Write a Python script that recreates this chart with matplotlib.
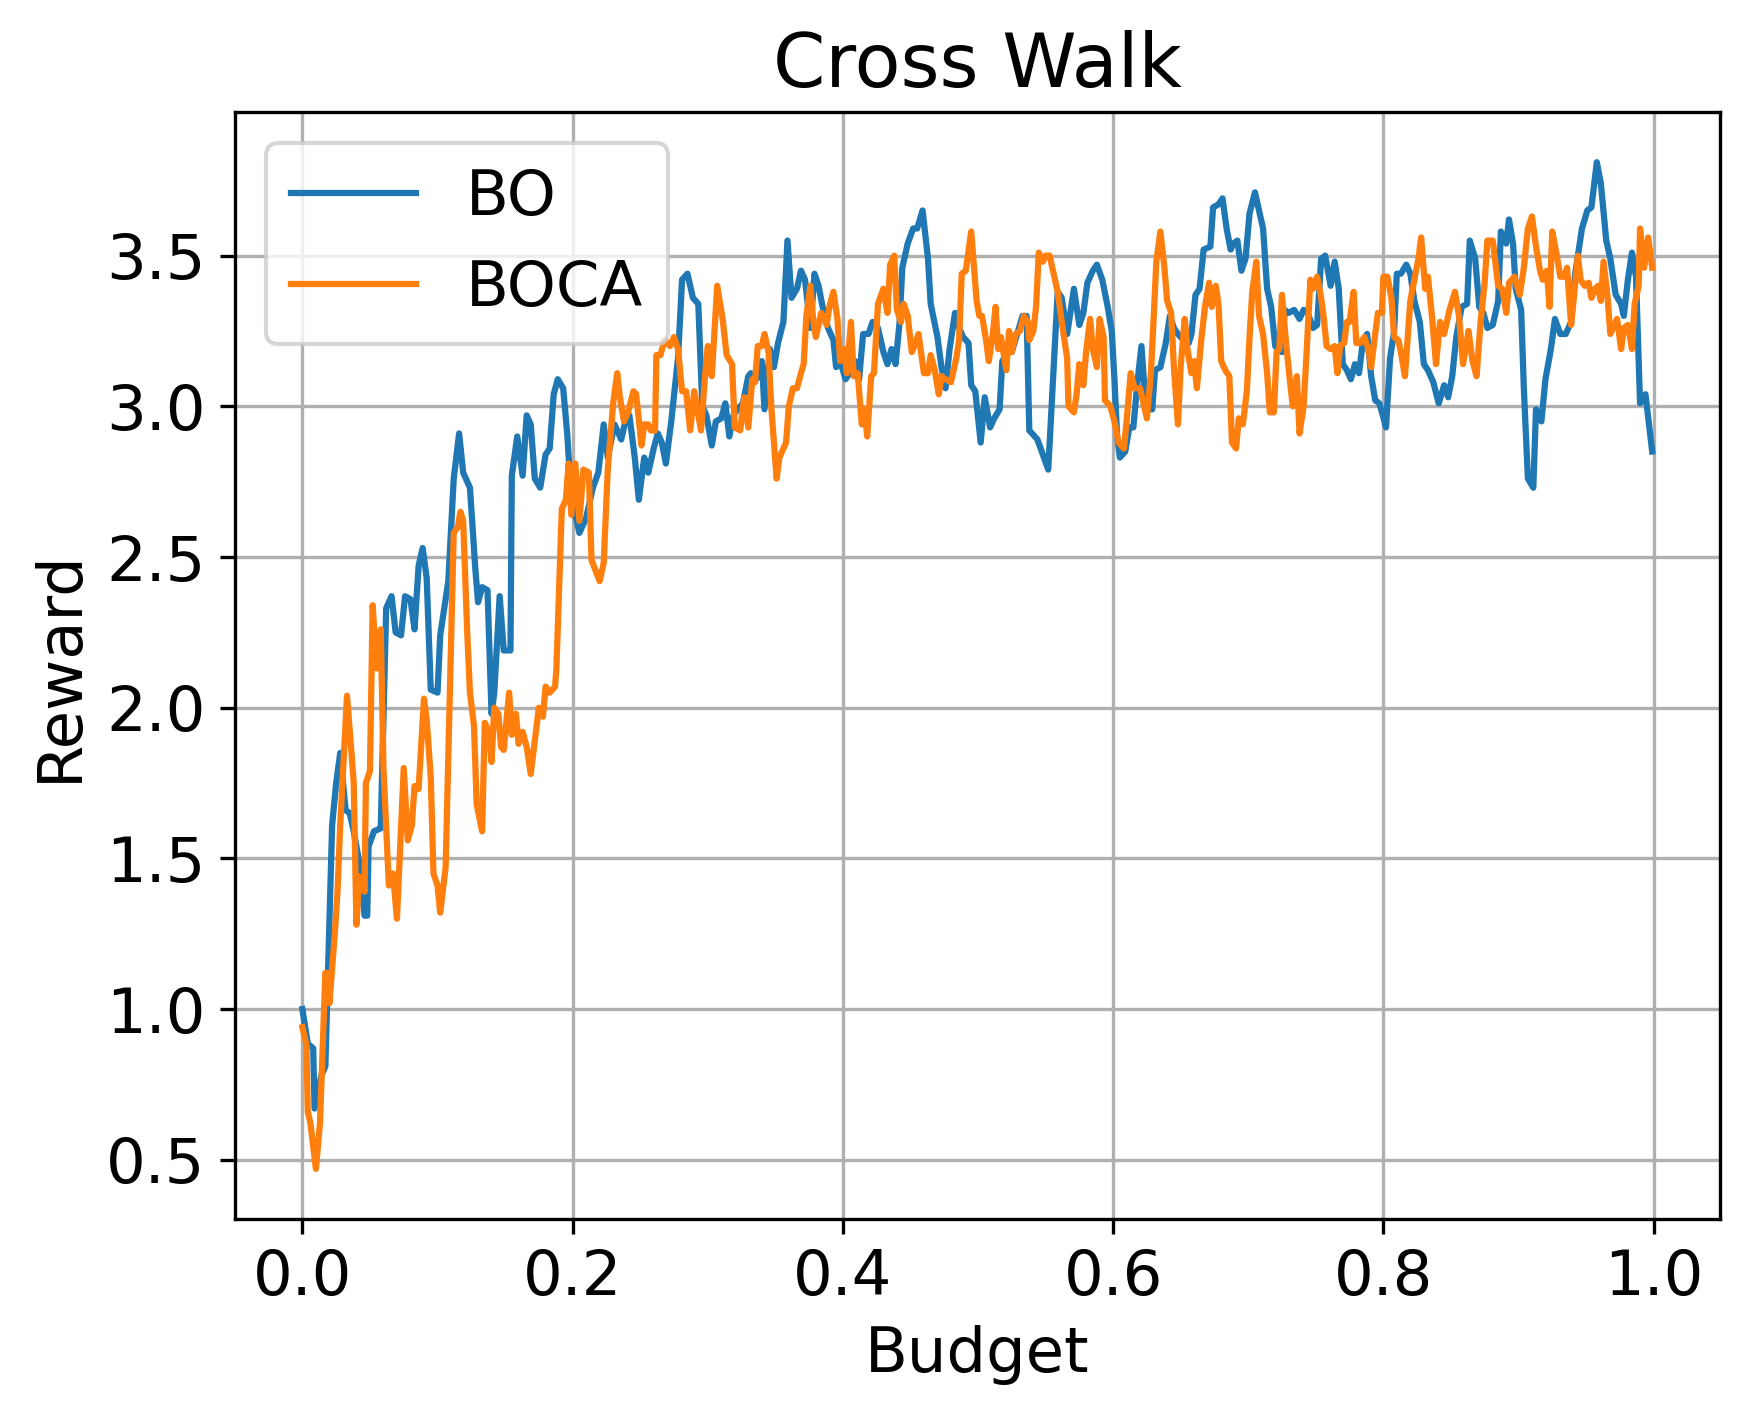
import matplotlib
matplotlib.use("Agg")
import matplotlib.pyplot as plt

# BO curve (budget, reward)
bo_budget = [0.0, 0.004, 0.008, 0.009, 0.014, 0.017, 0.022, 0.025, 0.028, 0.032, 0.035, 0.038, 0.042, 0.046, 0.048,
             0.049, 0.053, 0.058, 0.062, 0.066, 0.069, 0.073, 0.076, 0.080, 0.083, 0.086, 0.089, 0.092, 0.095, 0.100,
             0.102, 0.106, 0.108, 0.112, 0.116, 0.119, 0.124, 0.128, 0.130, 0.133, 0.137, 0.140, 0.142, 0.146, 0.149,
             0.154, 0.155, 0.159, 0.163, 0.166, 0.169, 0.172, 0.176, 0.180, 0.183, 0.186, 0.189, 0.193, 0.196, 0.199,
             0.202, 0.205, 0.210, 0.215, 0.219, 0.223, 0.226, 0.231, 0.236, 0.239, 0.242, 0.246, 0.249, 0.253, 0.256,
             0.260, 0.263, 0.266, 0.269, 0.273, 0.278, 0.281, 0.285, 0.289, 0.293, 0.296, 0.299, 0.303, 0.306, 0.310,
             0.313, 0.316, 0.319, 0.322, 0.326, 0.330, 0.332, 0.336, 0.340, 0.342, 0.346, 0.349, 0.352, 0.356, 0.359,
             0.362, 0.366, 0.369, 0.372, 0.376, 0.379, 0.382, 0.385, 0.389, 0.393, 0.395, 0.398, 0.402, 0.405, 0.409,
             0.412, 0.415, 0.419, 0.422, 0.426, 0.430, 0.433, 0.436, 0.439, 0.442, 0.444, 0.448, 0.452, 0.455, 0.459,
             0.463, 0.465, 0.470, 0.473, 0.476, 0.479, 0.483, 0.486, 0.489, 0.493, 0.495, 0.498, 0.502, 0.505, 0.509,
             0.512, 0.516, 0.518, 0.522, 0.525, 0.529, 0.533, 0.536, 0.538, 0.544, 0.548, 0.552, 0.555, 0.559, 0.562,
             0.566, 0.569, 0.571, 0.575, 0.578, 0.581, 0.585, 0.588, 0.592, 0.596, 0.599, 0.601, 0.603, 0.605, 0.609,
             0.612, 0.615, 0.618, 0.621, 0.624, 0.626, 0.629, 0.631, 0.635, 0.639, 0.642, 0.645, 0.648, 0.652, 0.656,
             0.658, 0.661, 0.664, 0.667, 0.672, 0.674, 0.678, 0.681, 0.684, 0.687, 0.689, 0.692, 0.695, 0.698, 0.701,
             0.705, 0.708, 0.711, 0.714, 0.717, 0.720, 0.722, 0.725, 0.727, 0.730, 0.734, 0.738, 0.741, 0.744, 0.748,
             0.751, 0.754, 0.757, 0.761, 0.764, 0.767, 0.770, 0.773, 0.776, 0.779, 0.782, 0.785, 0.788, 0.791, 0.794,
             0.797, 0.799, 0.802, 0.805, 0.808, 0.810, 0.813, 0.817, 0.820, 0.823, 0.827, 0.830, 0.833, 0.837, 0.841,
             0.845, 0.848, 0.851, 0.854, 0.858, 0.862, 0.864, 0.868, 0.871, 0.874, 0.877, 0.881, 0.885, 0.887, 0.891,
             0.893, 0.896, 0.898, 0.902, 0.904, 0.907, 0.911, 0.913, 0.917, 0.920, 0.924, 0.927, 0.931, 0.935, 0.939,
             0.942, 0.947, 0.951, 0.954, 0.958, 0.961, 0.965, 0.968, 0.972, 0.976, 0.978, 0.981, 0.984, 0.987, 0.990,
             0.994, 0.999]
bo_reward = [1.00, 0.885, 0.87, 0.67, 0.78, 0.81, 1.61, 1.75, 1.85, 1.66, 1.65, 1.59, 1.49, 1.31, 1.31,
             1.54, 1.59, 1.60, 2.33, 2.37, 2.25, 2.24, 2.37, 2.36, 2.26, 2.47, 2.53, 2.43, 2.06, 2.05,
             2.24, 2.36, 2.42, 2.76, 2.91, 2.78, 2.73, 2.46, 2.35, 2.40, 2.39, 1.98, 2.05, 2.37, 2.19,
             2.19, 2.77, 2.90, 2.77, 2.97, 2.94, 2.76, 2.73, 2.84, 2.86, 3.04, 3.09, 3.06, 2.91, 2.69,
             2.64, 2.58, 2.63, 2.73, 2.78, 2.94, 2.83, 2.94, 2.89, 2.95, 2.97, 2.83, 2.69, 2.83, 2.78,
             2.86, 2.91, 2.88, 2.81, 2.95, 3.16, 3.42, 3.44, 3.36, 3.34, 3.00, 2.97, 2.87, 2.95, 2.96,
             3.01, 2.90, 2.97, 2.99, 3.01, 3.10, 3.11, 3.09, 3.15, 2.99, 3.19, 3.13, 3.21, 3.28, 3.55,
             3.36, 3.39, 3.45, 3.42, 3.26, 3.44, 3.40, 3.33, 3.26, 3.22, 3.13, 3.15, 3.09, 3.11, 3.15,
             3.09, 3.24, 3.24, 3.28, 3.26, 3.18, 3.14, 3.19, 3.14, 3.28, 3.46, 3.54, 3.59, 3.59, 3.65,
             3.49, 3.34, 3.23, 3.13, 3.06, 3.19, 3.31, 3.26, 3.23, 3.21, 3.07, 3.05, 2.88, 3.03, 2.93,
             2.96, 2.99, 3.15, 3.18, 3.18, 3.24, 3.30, 3.30, 2.92, 2.89, 2.84, 2.79, 3.04, 3.38, 3.36,
             3.24, 3.33, 3.39, 3.27, 3.31, 3.41, 3.45, 3.47, 3.42, 3.33, 3.25, 3.09, 2.90, 2.83, 2.85,
             2.93, 2.93, 3.08, 3.20, 3.01, 2.99, 2.99, 3.12, 3.13, 3.21, 3.30, 3.26, 3.24, 3.22, 3.21,
             3.24, 3.37, 3.39, 3.52, 3.53, 3.66, 3.67, 3.69, 3.59, 3.52, 3.54, 3.55, 3.45, 3.49, 3.64,
             3.71, 3.65, 3.59, 3.39, 3.33, 3.20, 3.19, 3.18, 3.32, 3.31, 3.32, 3.29, 3.32, 3.31, 3.26,
             3.27, 3.49, 3.50, 3.40, 3.48, 3.39, 3.14, 3.12, 3.09, 3.14, 3.11, 3.22, 3.24, 3.10, 3.02,
             3.01, 2.98, 2.93, 3.16, 3.25, 3.44, 3.44, 3.47, 3.44, 3.35, 3.28, 3.14, 3.12, 3.08, 3.01,
             3.07, 3.03, 3.10, 3.23, 3.33, 3.34, 3.55, 3.49, 3.33, 3.31, 3.26, 3.27, 3.35, 3.58, 3.54,
             3.62, 3.54, 3.39, 3.32, 3.06, 2.76, 2.73, 2.99, 2.95, 3.09, 3.19, 3.29, 3.24, 3.24, 3.28,
             3.44, 3.59, 3.65, 3.66, 3.81, 3.74, 3.55, 3.49, 3.37, 3.34, 3.30, 3.42, 3.51, 3.43, 3.01,
             3.04, 2.85]

# BOCA curve (budget, reward)
boca_budget = [0.0, 0.003, 0.004, 0.006, 0.010, 0.013, 0.017, 0.019, 0.020, 0.024, 0.026, 0.028, 0.033, 0.036, 0.038,
               0.040, 0.042, 0.044, 0.046, 0.047, 0.050, 0.052, 0.055, 0.058, 0.060, 0.064, 0.067, 0.070, 0.075, 0.078,
               0.081, 0.083, 0.086, 0.090, 0.092, 0.095, 0.097, 0.100, 0.102, 0.106, 0.108, 0.112, 0.115, 0.117, 0.119,
               0.122, 0.124, 0.127, 0.129, 0.133, 0.135, 0.138, 0.140, 0.142, 0.145, 0.147, 0.149, 0.153, 0.155, 0.158,
               0.160, 0.163, 0.166, 0.169, 0.175, 0.178, 0.180, 0.183, 0.187, 0.188, 0.192, 0.195, 0.197, 0.199, 0.202,
               0.205, 0.208, 0.212, 0.214, 0.220, 0.223, 0.226, 0.230, 0.233, 0.235, 0.238, 0.241, 0.245, 0.247, 0.251,
               0.253, 0.256, 0.258, 0.261, 0.262, 0.265, 0.268, 0.272, 0.275, 0.278, 0.281, 0.284, 0.287, 0.290, 0.293,
               0.295, 0.298, 0.300, 0.303, 0.307, 0.311, 0.314, 0.318, 0.320, 0.324, 0.327, 0.330, 0.333, 0.335, 0.337,
               0.340, 0.342, 0.345, 0.347, 0.351, 0.353, 0.356, 0.358, 0.360, 0.363, 0.366, 0.369, 0.371, 0.373, 0.376,
               0.378, 0.380, 0.384, 0.388, 0.390, 0.393, 0.396, 0.398, 0.401, 0.403, 0.406, 0.408, 0.411, 0.414, 0.416,
               0.418, 0.421, 0.423, 0.426, 0.430, 0.433, 0.435, 0.438, 0.440, 0.443, 0.445, 0.448, 0.451, 0.453, 0.456,
               0.460, 0.463, 0.465, 0.468, 0.471, 0.473, 0.476, 0.480, 0.484, 0.486, 0.488, 0.491, 0.495, 0.499, 0.501,
               0.503, 0.506, 0.508, 0.511, 0.513, 0.515, 0.517, 0.521, 0.523, 0.525, 0.528, 0.531, 0.534, 0.537, 0.538,
               0.541, 0.543, 0.545, 0.548, 0.550, 0.553, 0.556, 0.559, 0.562, 0.566, 0.567, 0.571, 0.573, 0.575, 0.578,
               0.580, 0.583, 0.585, 0.588, 0.590, 0.593, 0.594, 0.598, 0.601, 0.604, 0.608, 0.610, 0.613, 0.616, 0.620,
               0.623, 0.625, 0.628, 0.630, 0.632, 0.635, 0.638, 0.640, 0.643, 0.645, 0.648, 0.650, 0.653, 0.655, 0.658,
               0.660, 0.662, 0.665, 0.668, 0.671, 0.673, 0.676, 0.678, 0.680, 0.683, 0.686, 0.688, 0.691, 0.693, 0.696,
               0.699, 0.701, 0.703, 0.706, 0.708, 0.711, 0.714, 0.716, 0.719, 0.721, 0.723, 0.725, 0.728, 0.731, 0.733,
               0.736, 0.738, 0.741, 0.743, 0.746, 0.748, 0.751, 0.754, 0.756, 0.758, 0.761, 0.764, 0.766, 0.768, 0.771,
               0.773, 0.775, 0.778, 0.780, 0.783, 0.786, 0.789, 0.791, 0.794, 0.796, 0.799, 0.800, 0.803, 0.806, 0.808,
               0.811, 0.813, 0.816, 0.820, 0.823, 0.826, 0.828, 0.831, 0.833, 0.836, 0.839, 0.842, 0.845, 0.849, 0.853,
               0.856, 0.859, 0.862, 0.863, 0.866, 0.869, 0.872, 0.875, 0.877, 0.881, 0.885, 0.888, 0.891, 0.893, 0.897,
               0.901, 0.904, 0.907, 0.910, 0.913, 0.916, 0.918, 0.921, 0.923, 0.925, 0.928, 0.931, 0.934, 0.936, 0.939,
               0.941, 0.944, 0.946, 0.949, 0.952, 0.954, 0.957, 0.959, 0.961, 0.963, 0.966, 0.968, 0.971, 0.973, 0.976,
               0.978, 0.981, 0.984, 0.986, 0.989, 0.990, 0.993, 0.996, 0.999]
boca_reward = [0.94, 0.88, 0.66, 0.62, 0.47, 0.62, 1.12, 1.12, 1.02, 1.25, 1.39, 1.61, 2.04, 1.87, 1.75,
               1.28, 1.44, 1.42, 1.39, 1.75, 1.79, 2.34, 2.13, 2.26, 1.80, 1.41, 1.45, 1.30, 1.80, 1.56,
               1.61, 1.74, 1.73, 2.03, 1.96, 1.77, 1.45, 1.41, 1.32, 1.47, 1.84, 2.58, 2.60, 2.65, 2.62,
               2.25, 2.05, 1.94, 1.68, 1.59, 1.95, 1.92, 1.82, 2.00, 1.98, 1.87, 1.86, 2.05, 1.91, 1.98,
               1.88, 1.92, 1.87, 1.78, 2.00, 1.97, 2.07, 2.05, 2.07, 2.13, 2.66, 2.69, 2.81, 2.64, 2.81,
               2.62, 2.79, 2.78, 2.49, 2.42, 2.48, 2.79, 3.01, 3.11, 3.03, 2.95, 2.98, 3.05, 3.04, 2.87,
               2.94, 2.94, 2.92, 2.92, 3.17, 3.17, 3.22, 3.20, 3.23, 3.19, 3.05, 3.05, 2.92, 3.05, 2.97,
               2.92, 3.10, 3.20, 3.10, 3.40, 3.29, 3.17, 3.14, 2.93, 2.92, 3.03, 2.93, 3.09, 3.08, 3.20,
               3.20, 3.24, 3.18, 3.00, 2.76, 2.83, 2.86, 2.88, 3.00, 3.06, 3.06, 3.11, 3.14, 3.30, 3.40,
               3.29, 3.23, 3.31, 3.27, 3.33, 3.38, 3.29, 3.15, 3.19, 3.11, 3.28, 3.10, 3.11, 2.94, 2.99,
               2.90, 3.10, 3.11, 3.34, 3.39, 3.31, 3.47, 3.50, 3.32, 3.28, 3.34, 3.30, 3.18, 3.20, 3.24,
               3.11, 3.11, 3.17, 3.12, 3.04, 3.10, 3.09, 3.08, 3.16, 3.22, 3.44, 3.45, 3.58, 3.35, 3.30,
               3.30, 3.22, 3.15, 3.24, 3.33, 3.19, 3.23, 3.12, 3.25, 3.18, 3.24, 3.25, 3.30, 3.28, 3.22,
               3.25, 3.33, 3.51, 3.48, 3.50, 3.50, 3.44, 3.38, 3.28, 3.16, 3.00, 2.98, 3.04, 3.14, 3.07,
               3.18, 3.29, 3.19, 3.13, 3.29, 3.23, 3.02, 3.00, 2.95, 2.88, 2.86, 2.95, 3.11, 3.06, 3.06,
               3.00, 2.96, 3.11, 3.29, 3.48, 3.58, 3.46, 3.35, 3.31, 3.13, 2.94, 3.13, 3.29, 3.19, 3.11,
               3.15, 3.06, 3.21, 3.33, 3.41, 3.33, 3.40, 3.34, 3.15, 3.12, 3.10, 2.88, 2.86, 2.96, 2.94,
               3.05, 3.23, 3.38, 3.48, 3.30, 3.24, 3.11, 2.98, 2.98, 3.18, 3.19, 3.37, 3.21, 3.08, 3.00,
               3.10, 2.91, 3.00, 3.16, 3.42, 3.39, 3.43, 3.36, 3.29, 3.20, 3.19, 3.20, 3.11, 3.20, 3.21,
               3.28, 3.28, 3.38, 3.21, 3.21, 3.23, 3.19, 3.13, 3.24, 3.31, 3.31, 3.43, 3.43, 3.36, 3.23,
               3.22, 3.18, 3.10, 3.35, 3.42, 3.49, 3.56, 3.39, 3.43, 3.30, 3.14, 3.28, 3.24, 3.32, 3.38,
               3.30, 3.14, 3.22, 3.25, 3.15, 3.10, 3.28, 3.41, 3.55, 3.55, 3.40, 3.39, 3.31, 3.41, 3.43,
               3.37, 3.46, 3.59, 3.63, 3.53, 3.45, 3.42, 3.45, 3.33, 3.58, 3.51, 3.43, 3.43, 3.46, 3.27,
               3.36, 3.50, 3.42, 3.40, 3.41, 3.36, 3.39, 3.40, 3.35, 3.48, 3.36, 3.24, 3.27, 3.29, 3.19,
               3.26, 3.27, 3.19, 3.34, 3.40, 3.59, 3.46, 3.56, 3.46]

plt.rcParams['font.size'] = 15

fig = plt.figure(figsize=(1753 / 300, 1416 / 300), dpi=300)
ax = fig.add_axes([0.134, 0.139, 0.847, 0.782])

ax.plot(bo_budget, bo_reward, label="BO")
ax.plot(boca_budget, boca_reward, label="BOCA")
ax.set_title("Cross Walk")
ax.set_xlabel("Budget")
ax.set_ylabel("Reward")
ax.grid(True)
ax.legend(loc="upper left")

fig.savefig("out.png", dpi=300)
